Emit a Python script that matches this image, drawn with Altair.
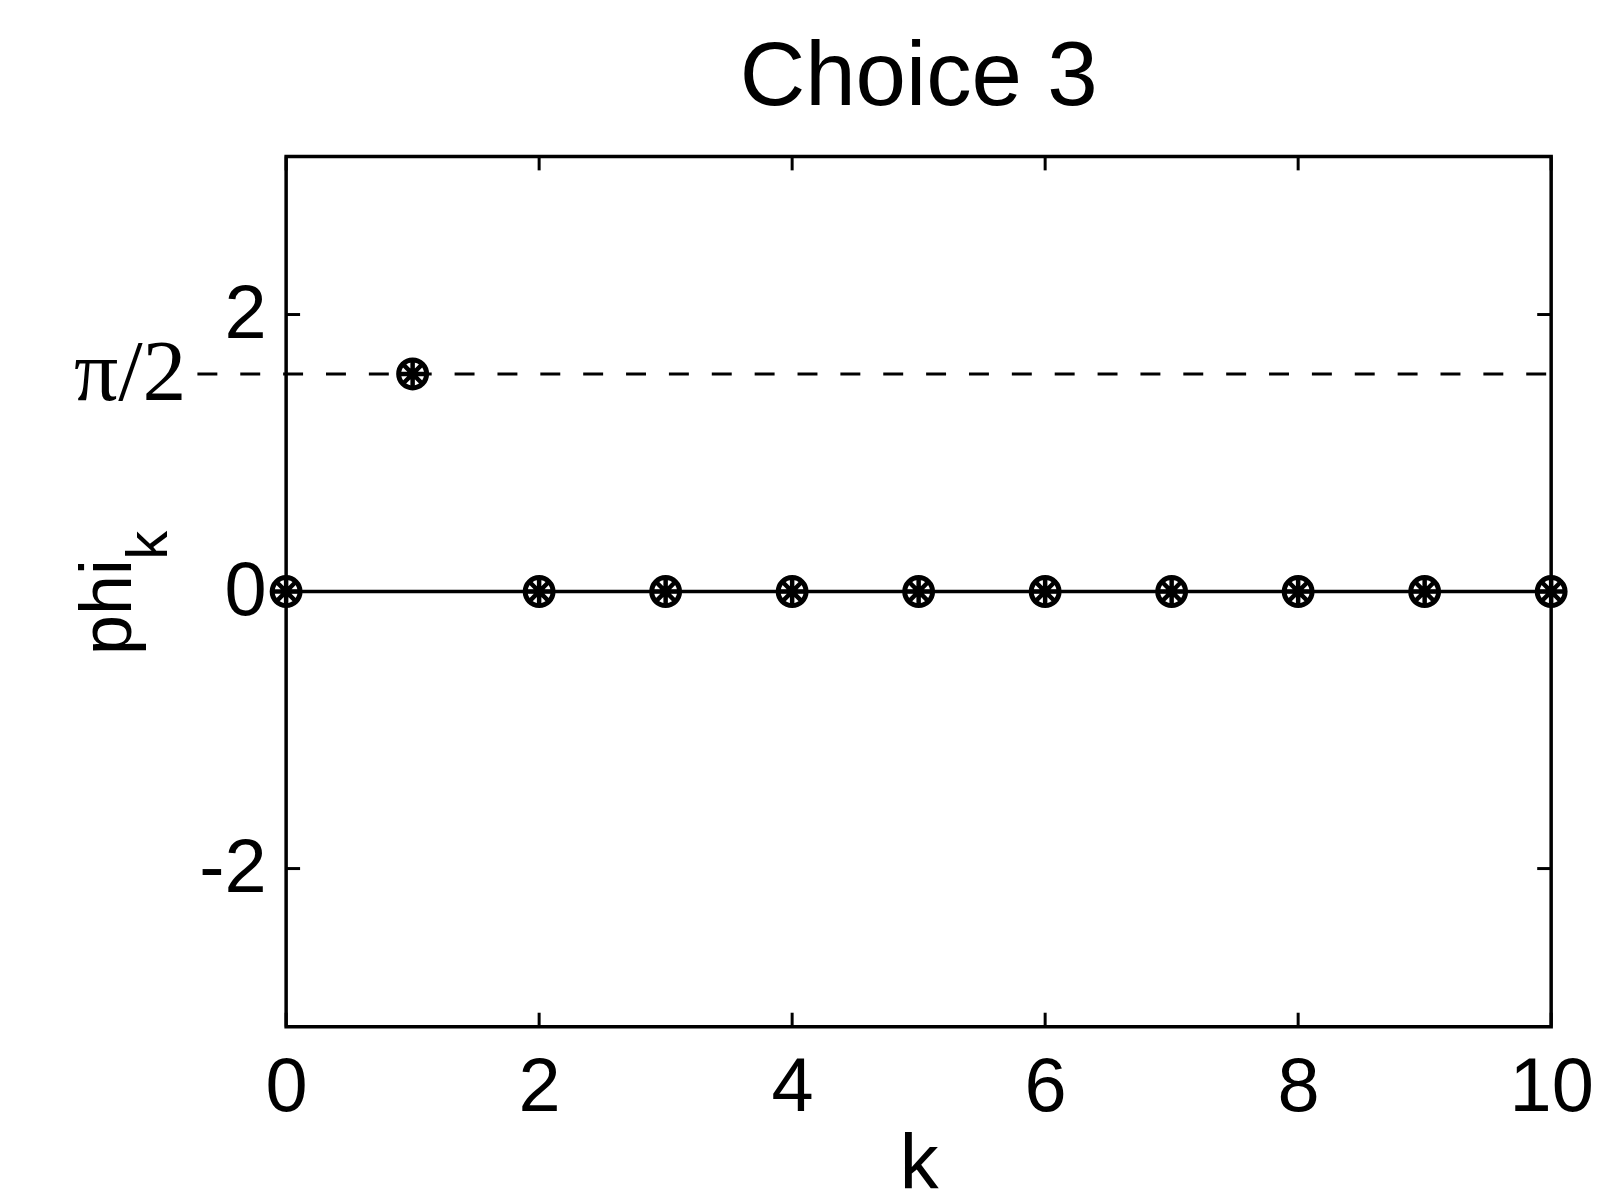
import altair as alt
import pandas as pd

# ---- data ----
k_values = [0, 1, 2, 3, 4, 5, 6, 7, 8, 9, 10]
phi_values = [0.0, 1.5708, 0.0, 0.0, 0.0, 0.0, 0.0, 0.0, 0.0, 0.0, 0.0]
x_ticks = [0, 2, 4, 6, 8, 10]
y_ticks = [-2, 0, 2]
pi_half = 1.5708
y_limit = 3.1416
x_limit = [0, 10]
title_text = "Choice 3"

W, H = 1269, 873
TICK = 14
FONT = "Liberation Sans"

pts = pd.DataFrame({"k": k_values, "phi": phi_values})
xt = pd.DataFrame({"k": x_ticks})
yt = pd.DataFrame({"phi": y_ticks})
zero_df = pd.DataFrame({"k": [x_limit[0]], "k2": [x_limit[1]], "phi": [0.0]})
half_df = pd.DataFrame({"phi": [pi_half], "label": ["π/2"]})

xs = alt.Scale(domain=x_limit, nice=False, zero=False)
ys = alt.Scale(domain=[-y_limit, y_limit], nice=False, zero=False)

x_axis = alt.Axis(values=x_ticks, labelFontSize=76, labelFont=FONT, labelColor="black",
                  ticks=False, domain=False, grid=False, labelPadding=24, labelFlush=False,
                  labelExpr="toString(datum.value)",
                  title="k", titleFontSize=78, titleFont=FONT, titleFontWeight="normal",
                  titleColor="black", titleBaseline="alphabetic", titleY=162)
y_axis = alt.Axis(values=y_ticks, labelFontSize=76, labelFont=FONT, labelColor="black",
                  ticks=False, domain=False, grid=False, labelPadding=20,
                  labelExpr="toString(datum.value)", title=None)

base = alt.Chart(pts)

# zero line (solid)
zero_line = alt.Chart(zero_df).mark_rule(color="black", strokeWidth=3.5).encode(
    x=alt.X("k:Q", scale=xs, axis=x_axis),
    x2="k2:Q",
    y=alt.Y("phi:Q", scale=ys, axis=y_axis),
)

# dashed pi/2 line, extending left to the label
half_line = alt.Chart(half_df).mark_rule(color="black", strokeWidth=3, strokeDash=[20, 23]).encode(
    x=alt.value(-89), x2=alt.value(W),
    y=alt.Y("phi:Q", scale=ys),
)
half_label = alt.Chart(half_df).mark_text(font="Liberation Serif", fontSize=88, align="right",
                                          baseline="middle", color="black").encode(
    x=alt.value(-100), y=alt.Y("phi:Q", scale=ys), text="label:N"
)

# inward ticks
tick_bottom = alt.Chart(xt).mark_rule(color="black", strokeWidth=3).encode(
    x=alt.X("k:Q", scale=xs), y=alt.value(H), y2=alt.value(H - TICK))
tick_top = alt.Chart(xt).mark_rule(color="black", strokeWidth=3).encode(
    x=alt.X("k:Q", scale=xs), y=alt.value(0), y2=alt.value(TICK))
tick_left = alt.Chart(yt).mark_rule(color="black", strokeWidth=3).encode(
    y=alt.Y("phi:Q", scale=ys), x=alt.value(0), x2=alt.value(TICK))
tick_right = alt.Chart(yt).mark_rule(color="black", strokeWidth=3).encode(
    y=alt.Y("phi:Q", scale=ys), x=alt.value(W), x2=alt.value(W - TICK))

# markers: circle + asterisk
circles = base.mark_point(shape="circle", filled=False, color="black", strokeWidth=5,
                          size=784, opacity=1).encode(
    x=alt.X("k:Q", scale=xs), y=alt.Y("phi:Q", scale=ys))
stars = base.mark_point(
    shape="M-1,0L1,0M0,-1L0,1M-0.7,-0.7L0.7,0.7M-0.7,0.7L0.7,-0.7",
    filled=False, color="black", strokeWidth=4.5, size=784, opacity=1).encode(
    x=alt.X("k:Q", scale=xs), y=alt.Y("phi:Q", scale=ys))

# title
title = alt.Chart(pd.DataFrame({"t": [title_text]})).mark_text(
    font=FONT, fontSize=91, align="center", baseline="alphabetic", color="black"
).encode(x=alt.value(W / 2), y=alt.value(-52), text="t:N")

# y label phi_k (with subscript)
ylab_main = alt.Chart(pd.DataFrame({"t": ["phi"]})).mark_text(
    font=FONT, fontSize=72, angle=270, align="center", baseline="alphabetic", color="black"
).encode(x=alt.value(-156), y=alt.value(452), text="t:N")
ylab_sub = alt.Chart(pd.DataFrame({"t": ["k"]})).mark_text(
    font=FONT, fontSize=58, angle=270, align="center", baseline="alphabetic", color="black"
).encode(x=alt.value(-119), y=alt.value(390), text="t:N")

chart = alt.layer(
    zero_line, half_line, half_label, tick_bottom, tick_top, tick_left, tick_right,
    circles, stars, title, ylab_main, ylab_sub
).properties(
    width=W, height=H,
    autosize=alt.AutoSizeParams(type="none"),
    padding={"left": 279, "top": 147, "right": 50, "bottom": 176},
).configure(
    background="white",
    view=alt.ViewConfig(stroke="black", strokeWidth=3.5),
)

chart.save("out.html", embed_options={"renderer": "svg", "actions": False})
